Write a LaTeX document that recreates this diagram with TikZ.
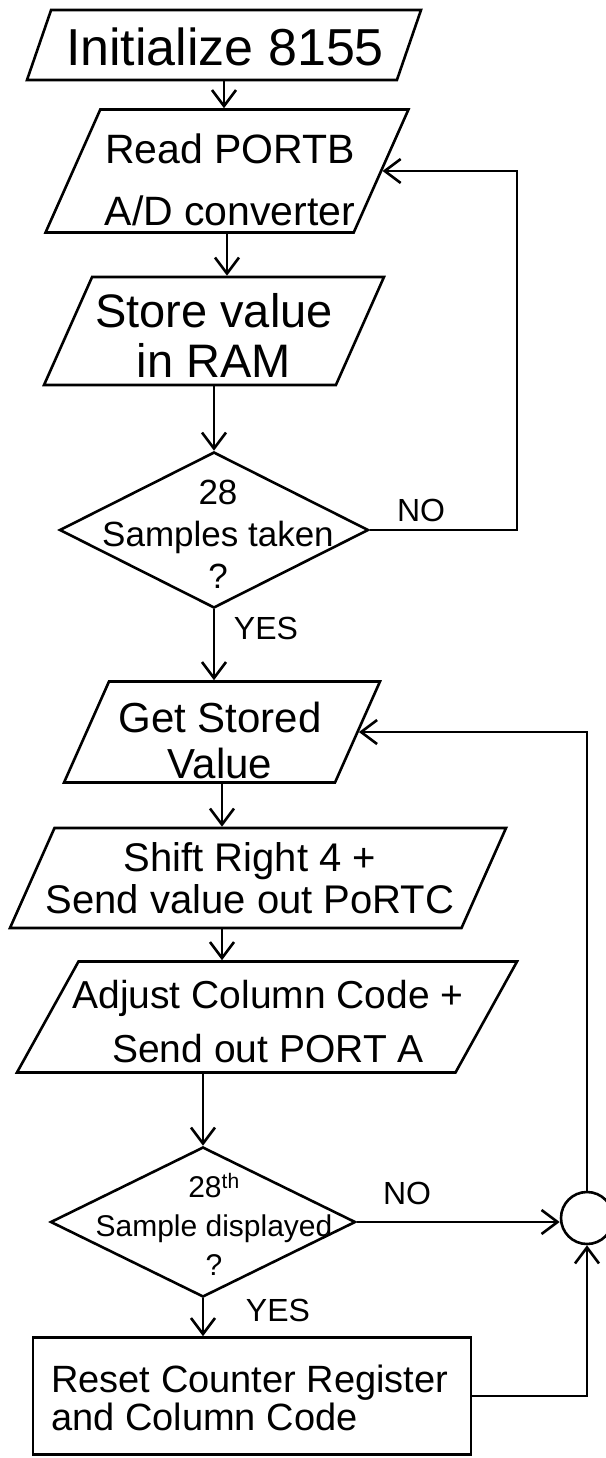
\documentclass[tikz,border=0pt]{standalone}
\usepackage{fontspec}
\setmainfont{Liberation Sans}
\usepackage{tikz}
\usetikzlibrary{shapes.geometric}
\usetikzlibrary{arrows.meta,positioning}

\begin{document}
\begin{tikzpicture}[x=1pt,y=-1pt,line width=2.6pt,
		para/.style={draw,trapezium,trapezium left angle=66,trapezium right angle=114},
		dec/.style={draw,diamond,inner sep=0pt},
		txt/.style={align=center,inner sep=0pt},
		lbl/.style={inner sep=0pt,font=\fontsize{32}{36}\selectfont},
		arr/.style={-{Straight Barb[length=16pt,width=24pt]}}]
		\useasboundingbox (0,0) rectangle (605,1458);
		\node[para,inner xsep=172.9pt,inner ysep=35pt,trapezium left angle=71,trapezium right angle=109] (box1) at (224,45) {};
		\node[txt,font=\fontsize{52}{56}\selectfont] (box1t) at (225,47) {Initialize 8155};
		\node[para,inner xsep=126.7pt,inner ysep=61.5pt] (box2) at (227,171) {};
		\node[txt,font=\fontsize{41}{62}\selectfont] (box2t) at (230,180) {Read PORTB\\A/D converter};
		\node[para,inner xsep=121.9pt,inner ysep=54pt] (box3) at (214,331) {};
		\node[txt,font=\fontsize{47}{50}\selectfont] (box3t) at (214,335) {Store value\\in RAM};
		\node[dec,minimum width=309pt,minimum height=156pt] (d1) at (214,530) {};
		\node[txt,font=\fontsize{35}{42}\selectfont] (d1t) at (218,534) {28\\Samples taken\\?};
		\node[para,inner xsep=113pt,inner ysep=50.5pt] (box4) at (222,732) {};
		\node[txt,font=\fontsize{42}{46}\selectfont] (box4t) at (220,740) {Get Stored\\Value};
		\node[para,inner xsep=203.5pt,inner ysep=50pt] (box5) at (258,878) {};
		\node[txt,font=\fontsize{40}{42}\selectfont] (box5t) at (250,878) {Shift Right 4 +\\Send value out PoRTC};
		\node[para,inner xsep=188.5pt,inner ysep=55.5pt,trapezium left angle=61,trapezium right angle=119] (box6) at (267,1017) {};
		\node[txt,font=\fontsize{39}{54}\selectfont] (box6t) at (268,1022) {Adjust Column Code +\\Send out PORT A};
		\node[dec,minimum width=305pt,minimum height=150pt] (d2) at (203,1222) {};
		\node[txt,font=\fontsize{30}{39}\selectfont] (d2t) at (214,1224) {28\textsuperscript{th}\\Sample displayed\\?};
		\node[draw,minimum width=438pt,minimum height=117pt,inner sep=0pt] (box7) at (252,1396) {};
		\node[txt,align=left,anchor=west,font=\fontsize{38}{38}\selectfont] (box7t) at (50,1398) {Reset Counter Register\\and Column Code};
		\node[circle,draw,minimum size=52pt,inner sep=0pt] (conn) at (587,1218) {};
		\coordinate (noA) at (517,530);
		\node[lbl] (no1) at (421,510) {NO};
		\node[lbl] (yes1) at (266,628) {YES};
		\node[lbl] (no2) at (407,1193) {NO};
		\node[lbl] (yes2) at (278,1310) {YES};
		\draw[arr] (box1.south) -- (box1.south |- box2.north);
		\draw[arr] (box2.south) -- (box2.south |- box3.north);
		\draw[arr] (box3.south) -- (box3.south |- d1.north);
		\draw[arr] (d1.south) -- (d1.south |- box4.north);
		\draw[arr] (box4.south) -- (box4.south |- box5.north);
		\draw[arr] (box5.south -| box4.south) -- (box4.south |- box6.north);
		\draw[arr] (box6.south -| d2.north) -- (d2.north);
		\draw[arr] (d2.south) -- (d2.south |- box7.north);
		\draw[arr] (d1.east) -- (noA) |- (box2.east);
		\draw[arr] (d2.east) -- (d2.east -| conn.west);
		\draw[arr] (box7.east) -| (conn.south);
		\draw[arr] (conn.north) |- (box4.east);
	\end{tikzpicture}
\end{document}
